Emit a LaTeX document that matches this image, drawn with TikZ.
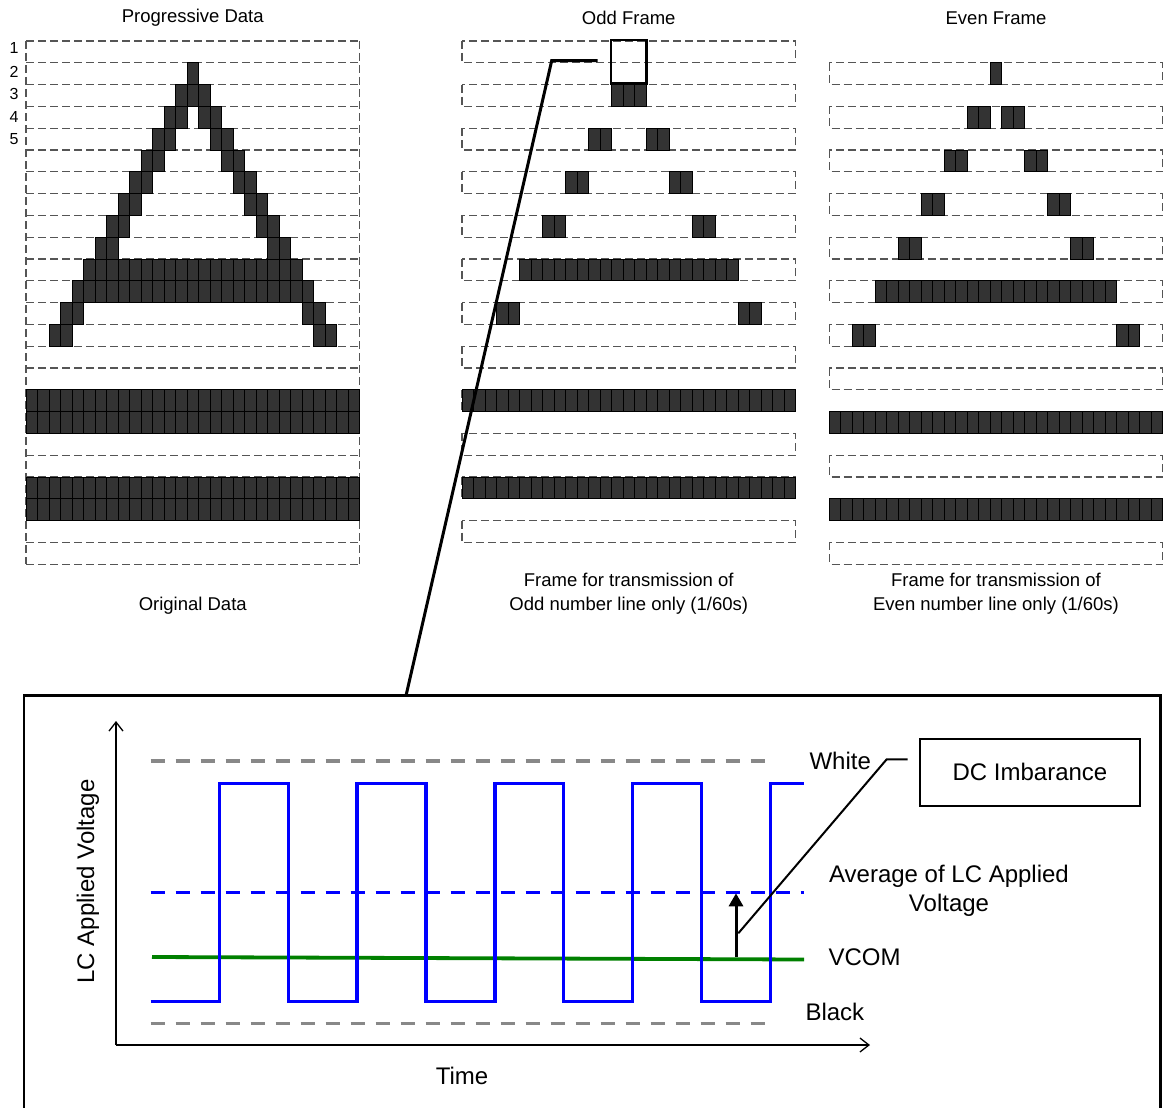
\documentclass[tikz,border=0pt]{standalone}
\usepackage{fontspec}
\setmainfont{Liberation Sans}
\usetikzlibrary{arrows.meta, positioning}
\definecolor{pixgray}{RGB}{51,51,51}
\definecolor{rowgray}{RGB}{85,85,85}
\definecolor{levelgray}{RGB}{136,136,136}
\definecolor{wavblue}{RGB}{0,0,255}
\definecolor{vcomgreen}{RGB}{0,128,0}

\newcommand{\pw}{11.5}
\newcommand{\ph}{21.8}
\newcommand{\ty}{41}
% lit columns for each line of the progressive picture
\newcommand{\progrows}{1/{14},2/{13,14,15},3/{12,13,15,16},4/{11,12,16,17},5/{10,11,17,18},6/{9,10,18,19},7/{8,9,19,20},8/{7,8,20,21},9/{6,7,21,22},10/{5,...,23},11/{4,...,24},12/{3,4,24,25},13/{2,3,25,26},16/{0,...,28},17/{0,...,28},20/{0,...,28},21/{0,...,28}}

\begin{document}
\begin{tikzpicture}[x=1pt, y=-1pt,
  pixel/.style={fill=pixgray, draw=black, line width=0.9pt},
  rowbox/.style={draw=rowgray, line width=1.1pt, dash pattern=on 8pt off 4pt},
  title/.style={font=\fontsize{18.5}{24}\selectfont},
  numlabel/.style={font=\fontsize{16}{18}\selectfont},
  chartlabel/.style={font=\fontsize{24}{29}\selectfont},
  level/.style={draw=levelgray, line width=3.3pt, dash pattern=on 14pt off 11pt},
  wave/.style={draw=wavblue, line width=3.3pt},
  axis/.style={draw=black, line width=1.3pt, -{Straight Barb[length=9pt, width=14pt]}},
  callout/.style={draw=black, line width=3pt},
  thincallout/.style={draw=black, line width=2pt}]

  \useasboundingbox (0,0) rectangle (1165,1108);

  % Progressive data
  \node[title] (progtitle) at (192.75,18) {Progressive Data};
  \foreach \r in {0,...,24}
    \draw[rowbox] (26,{\ty+\r*\ph}) -- ++(333.5,0);
  \draw[rowbox] (26,\ty) -- ++(0,523.2);
  \draw[rowbox] (359.5,\ty) -- ++(0,523.2);
  \foreach \r/\cols in \progrows
    \foreach \k in \cols
      \draw[pixel] ({26+\k*\pw},{\ty+\r*\ph}) rectangle ++(\pw,\ph);
  \foreach \n/\y in {1/48,2/72,3/94,4/117,5/139}
    \node[numlabel] (num\n) at (14,\y) {\n};
  \node[title] (progcap) at (192.75,606) {Original Data};

  % Odd frame
  \node[title] (oddtitle) at (628.75,18) {Odd Frame};
  \foreach \r in {0,2,...,22}
    \draw[rowbox] (462,{\ty+\r*\ph}) rectangle ++(333.5,\ph);
  \foreach \r/\cols in \progrows {
    \ifodd\r\relax\else
      \foreach \k in \cols
        \draw[pixel] ({462+\k*\pw},{\ty+\r*\ph}) rectangle ++(\pw,\ph);
    \fi
  }
  \node[draw, line width=2.5pt, minimum width=35.7pt, minimum height=43.3pt, inner sep=0pt] (oddsel) at (628.85,61.65) {};
  \node[title, align=center] (oddcap) at (628.75,594) {Frame for transmission of\\Odd number line only (1/60s)};

  % Even frame
  \node[title] (eventitle) at (996,18) {Even Frame};
  \foreach \r in {1,3,...,23}
    \draw[rowbox] (829.3,{\ty+\r*\ph}) rectangle ++(333.5,\ph);
  \foreach \r/\cols in \progrows {
    \ifodd\r\relax
      \foreach \k in \cols
        \draw[pixel] ({829.3+\k*\pw},{\ty+\r*\ph}) rectangle ++(\pw,\ph);
    \fi
  }
  \node[title, align=center] (evencap) at (996,594) {Frame for transmission of\\Even number line only (1/60s)};

  % Zoomed waveform
  \draw[line width=2.5pt] (24,695.7) rectangle (1160.7,1110);
  \coordinate (seltail) at (597.7,60.7);
  \coordinate (selbend) at (551.7,60.7);
  \coordinate (selfoot) at (406,695.7);
  \draw[callout] (seltail) -- (selbend) -- (selfoot);

  \coordinate (origin) at (116,1045);
  \coordinate (xend) at (870,1045);
  \coordinate (yend) at (116,721);
  \draw[axis] (origin) -- (xend);
  \draw[axis] (origin) -- (yend);
  \node[chartlabel, rotate=90] (ylabel) at (88,881.5) {LC Applied Voltage};
  \node[chartlabel] (xlabel) at (462,1076) {Time};

  \draw[level] (150.7,761) -- (767,761);
  \draw[level] (150.7,1023.3) -- (767,1023.3);
  \draw[wave, dash pattern=on 14pt off 11pt] (150.7,892.3) -- (804,892.3);
  \draw[draw=vcomgreen, line width=3.8pt] (152,957) -- (804,959.5);
  \draw[wave] (150.7,1001.7)
    \foreach \i in {0,2,4,6} {
      -- ({219.3+68.9*\i},1001.7) -- ({219.3+68.9*\i},783.3)
      -- ({219.3+68.9*(\i+1)},783.3) -- ({219.3+68.9*(\i+1)},1001.7)
    }
    -- (770.5,1001.7) -- (770.5,783.3) -- (804,783.3);

  \node[chartlabel, anchor=west] (white) at (806,761) {White};
  \node[chartlabel, anchor=west] (black) at (802,1012) {Black};
  \node[chartlabel, anchor=west] (vcom) at (825,957) {VCOM};
  \node[chartlabel, align=center] (avg) at (949,891) {Average of LC Applied\\Voltage};

  \coordinate (dcfoot) at (736,956.7);
  \coordinate (dctip) at (736,893.3);
  \draw[line width=3pt, -{Triangle[length=13pt, width=14pt]}] (dcfoot) -- (dctip);
  \node[draw, line width=2.3pt, minimum width=220pt, minimum height=66.7pt, chartlabel] (dcbox) at (1030,772.3) {DC Imbarance};
  \coordinate (dcroot) at (738.3,933.3);
  \coordinate (dcbend) at (886.7,759.3);
  \coordinate (dcstub) at (907.7,759.3);
  \draw[thincallout] (dcroot) -- (dcbend) -- (dcstub);
\end{tikzpicture}
\end{document}
